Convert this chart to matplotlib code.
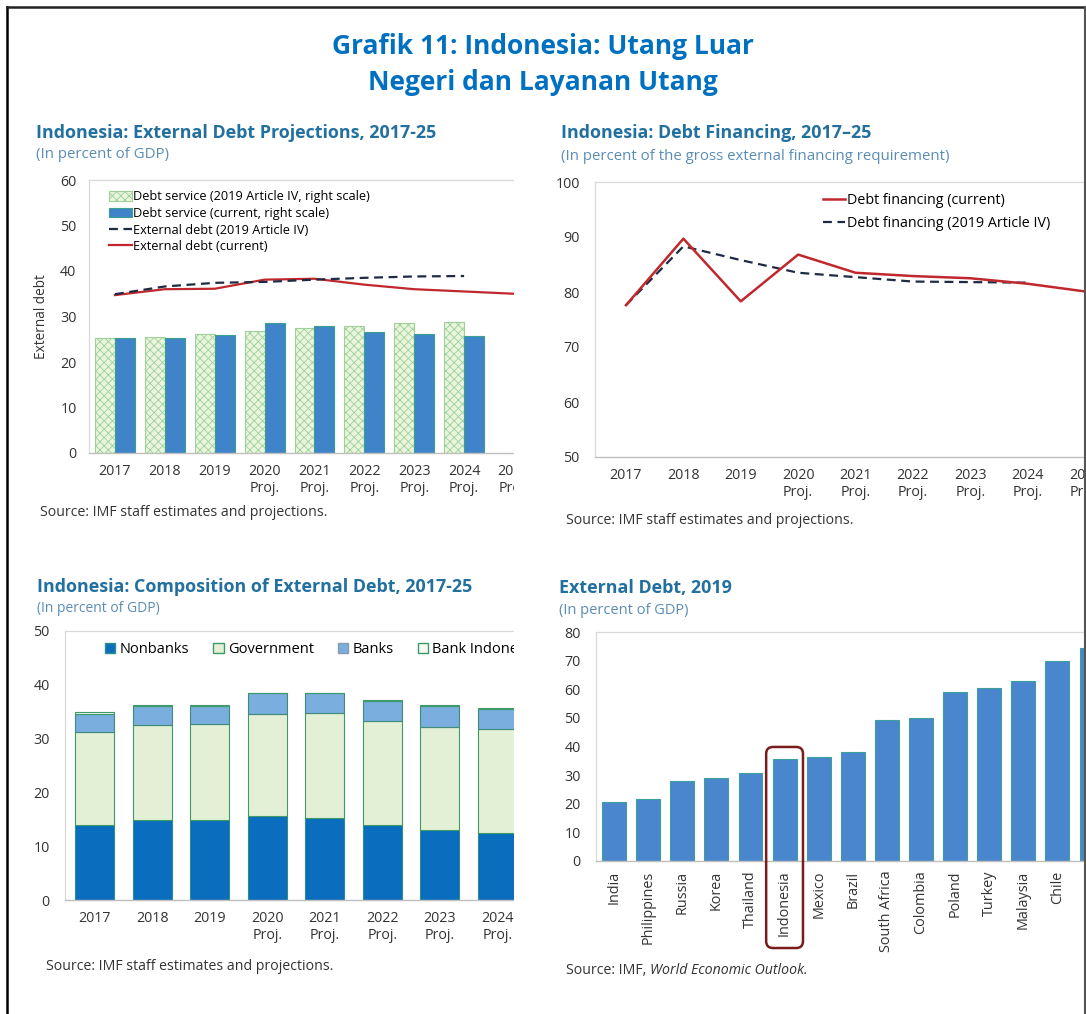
import matplotlib
matplotlib.use("Agg")
import matplotlib.pyplot as plt
from matplotlib.patches import Patch, Rectangle, FancyBboxPatch
from matplotlib.lines import Line2D
from matplotlib import transforms

plt.rcParams['font.family'] = ['Open Sans', 'DejaVu Sans']
plt.rcParams['hatch.linewidth'] = 0.6

# --- data -------------------------------------------------------------
years = ['2017', '2018', '2019', '2020\nProj.', '2021\nProj.', '2022\nProj.',
         '2023\nProj.', '2024\nProj.', '2025\nProj.']

# External debt projections (percent of GDP)
debt_service_art4 = [25.2, 25.5, 26.2, 26.9, 27.4, 28.0, 28.6, 28.8]
debt_service_current = [25.2, 25.3, 25.9, 28.5, 27.9, 26.6, 26.1, 25.7]
ext_debt_art4 = [34.9, 36.6, 37.4, 37.6, 38.1, 38.5, 38.8, 38.9]
ext_debt_current = [34.7, 36.0, 36.1, 38.1, 38.3, 37.0, 36.0, 35.5, 35.0]

# Debt financing (percent of gross external financing requirement)
fin_current = [77.6, 89.7, 78.3, 86.8, 83.5, 82.9, 82.5, 81.5, 80.1]
fin_art4 = [77.6, 88.3, 85.8, 83.5, 82.7, 81.9, 81.8, 81.7]

# Composition of external debt (percent of GDP)
comp_years = years[:8]
nonbanks = [13.9, 14.85, 14.85, 15.7, 15.2, 13.9, 13.1, 12.4]
government = [17.4, 17.65, 17.85, 18.8, 19.5, 19.3, 19.1, 19.3]
banks = [3.2, 3.6, 3.4, 3.9, 3.7, 3.8, 3.9, 3.8]
bank_indonesia = [0.4, 0.15, 0.15, 0.1, 0.1, 0.1, 0.1, 0.1]

# External debt 2019 by country (percent of GDP)
countries = ['India', 'Philippines', 'Russia', 'Korea', 'Thailand', 'Indonesia',
             'Mexico', 'Brazil', 'South Africa', 'Colombia', 'Poland', 'Turkey',
             'Malaysia', 'Chile', 'Hungary']
ext_debt_2019 = [20.5, 21.8, 28.1, 29.0, 30.8, 35.6, 36.2, 38.1, 49.1, 50.0,
                 59.1, 60.5, 62.8, 69.9, 74.5]

# --- layout -----------------------------------------------------------
W, H = 1086, 1014
fig = plt.figure(figsize=(W / 100, H / 100), dpi=100)

TITLE_BLUE = '#0070c0'
PANEL_BLUE = '#22709f'
SUB_BLUE = '#5a8db5'
TXT = '#333333'
RED = '#c0282d'
NAVY = '#1f2a44'
TICK = 10.3


def px_axes(left, top, right, bottom):
    return fig.add_axes([left / W, 1 - bottom / H, (right - left) / W, (bottom - top) / H])


def ftext(x, y, s, **kw):
    return fig.text(x / W, 1 - y / H, s, va='center', **kw)


def style_axes(ax, ypad=11):
    for side in ['top', 'left', 'right']:
        ax.spines[side].set_color('#dadada')
        ax.spines[side].set_linewidth(0.9)
    ax.spines['bottom'].set_color('#bfbfbf')
    ax.spines['bottom'].set_linewidth(1.0)
    ax.tick_params(length=0, labelsize=TICK, colors=TXT)
    ax.tick_params(axis='y', pad=ypad)
    ax.tick_params(axis='x', pad=8)


# main title
ftext(543, 46, 'Grafik 11: Indonesia: Utang Luar', ha='center', fontsize=19,
      fontweight='bold', color=TITLE_BLUE)
ftext(543, 83, 'Negeri dan Layanan Utang', ha='center', fontsize=19,
      fontweight='bold', color=TITLE_BLUE)

# --- panel 1: external debt projections --------------------------------
ax1 = px_axes(89, 180, 514, 453)
style_axes(ax1, ypad=9)
x = range(len(debt_service_art4))
h1 = ax1.bar([i - 0.2 for i in x], debt_service_art4, width=0.4, facecolor='#eaf5dd',
             edgecolor='#9fd098', hatch='xxxx', linewidth=0.8,
             label='Debt service (2019 Article IV, right scale)')
h2 = ax1.bar([i + 0.2 for i in x], debt_service_current, width=0.4, color='#3f84c8',
             edgecolor='#3a9e90', linewidth=0.8,
             label='Debt service (current, right scale)')
h3, = ax1.plot(range(len(ext_debt_art4)), ext_debt_art4, color=NAVY, lw=1.6,
               dashes=(4, 2.5), label='External debt (2019 Article IV)', zorder=4)
h4, = ax1.plot(range(len(ext_debt_current)), ext_debt_current, color=RED, lw=1.6,
               label='External debt (current)', zorder=3)
ax1.set_ylim(0, 60)
ax1.set_yticks(range(0, 61, 10))
ax1.set_xlim(-0.52, 7.98)
ax1.set_xticks(range(len(years)))
ax1.set_xticklabels(years)
ax1.spines['right'].set_visible(False)
ax1.set_ylabel('External debt', fontsize=9.8, color=TXT, labelpad=8)
ax1.legend(handles=[h1, h2, h3, h4], loc='upper left', bbox_to_anchor=(0.03, 0.99),
           frameon=False, fontsize=9.2, handlelength=1.75, handleheight=0.8,
           handletextpad=0.1, labelspacing=0.28, borderaxespad=0.2)

ftext(36, 133, 'Indonesia: External Debt Projections, 2017-25', fontsize=12.9,
      fontweight='bold', color=PANEL_BLUE)
ftext(36, 155, '(In percent of GDP)', fontsize=10.8, color=SUB_BLUE)
ftext(40, 513, 'Source: IMF staff estimates and projections.', fontsize=10.2, color=TXT)

# --- panel 2: debt financing -------------------------------------------
ax2 = px_axes(595, 182, 1100, 457)
style_axes(ax2)
ax2.plot(range(len(fin_current)), fin_current, color=RED, lw=1.8,
         label='Debt financing (current)', zorder=3)
ax2.plot(range(len(fin_art4)), fin_art4, color=NAVY, lw=1.6, dashes=(4, 2.5),
         label='Debt financing (2019 Article IV)', zorder=2)
ax2.set_ylim(50, 100)
ax2.set_yticks(range(50, 101, 10))
ax2.set_xlim(-0.54, 8.26)
ax2.set_xticks(range(len(years)))
ax2.set_xticklabels(years)
ax2.legend(loc='upper left', bbox_to_anchor=(0.435, 0.99), frameon=False,
           fontsize=10.3, handlelength=1.5, handletextpad=0.15, labelspacing=0.55,
           borderaxespad=0.2)

ftext(561, 133, 'Indonesia: Debt Financing, 2017\u201325', fontsize=12.9,
      fontweight='bold', color=PANEL_BLUE)
ftext(561, 156, '(In percent of the gross external financing requirement)',
      fontsize=10.8, color=SUB_BLUE)
ftext(566, 520, 'Source: IMF staff estimates and projections.', fontsize=10.2, color=TXT)

# --- panel 3: composition of external debt -----------------------------
ax3 = px_axes(65, 631, 514, 900)
style_axes(ax3)
xc = range(len(comp_years))
bw = 0.68
b1 = nonbanks
b2 = [a + b for a, b in zip(b1, government)]
b3 = [a + b for a, b in zip(b2, banks)]
ax3.bar(xc, nonbanks, width=bw, color='#0b6dbd', edgecolor='#2a8f86', linewidth=0.8)
ax3.bar(xc, government, bottom=b1, width=bw, color='#e3f0d6', edgecolor='#3f9a6a',
        linewidth=0.8)
ax3.bar(xc, banks, bottom=b2, width=bw, color='#79aede', edgecolor='#3f8a78',
        linewidth=0.8)
ax3.bar(xc, bank_indonesia, bottom=b3, width=bw, color='#f2f8ee', edgecolor='#3f9a6a',
        linewidth=0.8)
ax3.set_ylim(0, 50)
ax3.set_yticks(range(0, 51, 10))
ax3.set_xlim(-0.52, 7.29)
ax3.set_xticks(list(xc))
ax3.set_xticklabels(comp_years)
ax3.spines['right'].set_visible(False)
comp_handles = [
    Patch(facecolor='#0b6dbd', edgecolor='#2a8f86', label='Nonbanks'),
    Patch(facecolor='#e3f0d6', edgecolor='#3f9a6a', label='Government'),
    Patch(facecolor='#79aede', edgecolor='#8a9aa8', label='Banks'),
    Patch(facecolor='#f7fbf4', edgecolor='#3f9a6a', label='Bank Indonesia'),
]
ax3.legend(handles=comp_handles, loc='upper left', bbox_to_anchor=(0.07, 0.99),
           ncol=4, frameon=False, fontsize=10.5, handlelength=0.7, handleheight=0.7,
           handletextpad=0.3, columnspacing=1.65, borderaxespad=0.2)

ftext(37, 587, 'Indonesia: Composition of External Debt, 2017-25', fontsize=12.9,
      fontweight='bold', color=PANEL_BLUE)
ftext(37, 608, '(In percent of GDP)', fontsize=10, color=SUB_BLUE)
ftext(46, 967, 'Source: IMF staff estimates and projections.', fontsize=10.2, color=TXT)

# --- panel 4: external debt 2019 by country ----------------------------
ax4 = px_axes(596, 632, 1100, 861)
style_axes(ax4)
xk = range(len(countries))
ax4.bar(xk, ext_debt_2019, width=0.7, color='#4a86cd', edgecolor='#3c9f9a',
        linewidth=0.8)
ax4.set_ylim(0, 80)
ax4.set_yticks(range(0, 81, 10))
ax4.set_xlim(-0.53, 14.25)
ax4.set_xticks(list(xk))
ax4.set_xticklabels(countries, rotation=90, fontsize=10.4)
ax4.tick_params(axis='x', pad=7)

# highlight box around Indonesia
idx = countries.index('Indonesia')
blend = transforms.blended_transform_factory(ax4.transData, ax4.transAxes)
box = FancyBboxPatch((idx - 0.54, -0.38), 1.08, 0.878,
                     boxstyle='round,pad=0,rounding_size=0.2', mutation_aspect=0.149,
                     transform=blend, clip_on=False, fill=False,
                     edgecolor='#7a1c1c', linewidth=1.8, zorder=5)
ax4.add_patch(box)

ftext(559, 588, 'External Debt, 2019', fontsize=12.9, fontweight='bold', color=PANEL_BLUE)
ftext(559, 610, '(In percent of GDP)', fontsize=10.5, color=SUB_BLUE)
src = ftext(566, 971, 'Source: IMF, ', fontsize=10.2, color=TXT)
renderer = fig.canvas.get_renderer()
src_w = src.get_window_extent(renderer=renderer).width
ftext(566 + src_w, 971, 'World Economic Outlook.', fontsize=10.2, color=TXT,
      style='italic')

# left panels are cut off at their right edge
fig.add_artist(Rectangle((514 / W, 0), 34 / W, 1 - 112 / H, transform=fig.transFigure,
                         facecolor='white', edgecolor='none', zorder=10))

# page frame
fig.add_artist(Line2D([7 / W, 7 / W], [0, 1 - 7 / H], transform=fig.transFigure,
                      color='black', lw=1.8, zorder=11))
fig.add_artist(Line2D([7 / W, 1085 / W], [1 - 7 / H, 1 - 7 / H],
                      transform=fig.transFigure, color='#222222', lw=1.8, zorder=11))
fig.add_artist(Line2D([1085 / W, 1085 / W], [0, 1 - 7 / H], transform=fig.transFigure,
                      color='#555555', lw=1.5, zorder=11))

fig.savefig('out.png', dpi=100, facecolor='white')
